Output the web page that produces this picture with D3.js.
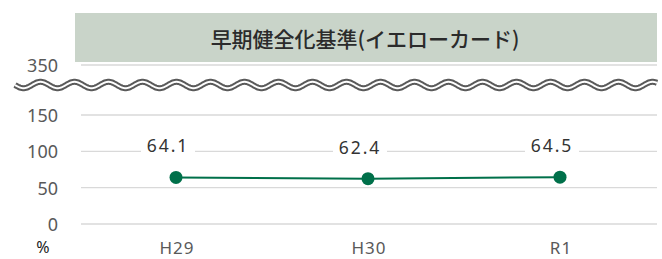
<!DOCTYPE html>
<html>
<head>
<meta charset="utf-8">
<script src="https://cdn.jsdelivr.net/npm/d3@7"></script>
<style>
  html, body { margin: 0; padding: 0; background: #fff; }
  svg { display: block; }
</style>
</head>
<body>
<div id="chart"></div>
<script>
const title = "早期健全化基準(イエローカード)";
const categories = ["H29", "H30", "R1"];
const values = [64.1, 62.4, 64.5];
const yTicks = [0, 50, 100, 150, 350];
const unitLabel = "%";

const W = 662, H = 259;
const numFont = "'Noto Sans', 'Open Sans', sans-serif";

const svg = d3.select("#chart")
  .append("svg")
  .attr("width", W)
  .attr("height", H);

// title box
svg.append("rect")
  .attr("x", 75).attr("y", 13)
  .attr("width", 582).attr("height", 49)
  .attr("fill", "#c9d4c9");

svg.append("text")
  .attr("x", 365).attr("y", 38)
  .attr("text-anchor", "middle")
  .attr("dominant-baseline", "central")
  .style("font-family", "'Noto Sans CJK JP', sans-serif")
  .style("font-size", "21px")
  .style("font-weight", 500)
  .attr("fill", "#2b2b2b")
  .text(title);

// scales (broken axis between 150 and 350)
const x = d3.scalePoint()
  .domain(categories)
  .range([80, 656])
  .padding(0.5);

const y = d3.scaleLinear()
  .domain([0, 150, 350])
  .range([224, 115, 65]);

// gridlines
svg.append("g")
  .selectAll("line")
  .data(yTicks)
  .join("line")
  .attr("x1", 81).attr("x2", 657)
  .attr("y1", d => y(d)).attr("y2", d => y(d))
  .attr("stroke", "#d9d9d9")
  .attr("stroke-width", 1.3);

// y tick labels
svg.append("g")
  .selectAll("text")
  .data(yTicks)
  .join("text")
  .attr("x", 58)
  .attr("y", d => y(d))
  .attr("text-anchor", "end")
  .attr("dominant-baseline", "central")
  .style("font-family", numFont)
  .style("font-size", "18px")
  .attr("fill", "#595959")
  .text(d => d);

// break mark (double wavy line)
const waveY = 85, period = 34, amp = 3.2;
const wavePts = d3.range(15, 658, 1).map(px => [px, waveY + amp * Math.sin((px - 15) / period * 2 * Math.PI)]);
const wave = d3.line();
svg.append("path")
  .attr("d", wave(wavePts))
  .attr("fill", "none")
  .attr("stroke", "#5a5a5a")
  .attr("stroke-width", 6);
svg.append("path")
  .attr("d", wave(wavePts))
  .attr("fill", "none")
  .attr("stroke", "#fff")
  .attr("stroke-width", 2);

// data line
const pts = categories.map((c, i) => ({ c, v: values[i] }));
svg.append("path")
  .datum(pts)
  .attr("fill", "none")
  .attr("stroke", "#00704a")
  .attr("stroke-width", 2)
  .attr("d", d3.line().x(d => x(d.c)).y(d => y(d.v)));

svg.append("g")
  .selectAll("circle")
  .data(pts)
  .join("circle")
  .attr("cx", d => x(d.c))
  .attr("cy", d => y(d.v))
  .attr("r", 6.5)
  .attr("fill", "#00704a");

// value labels with white background
const lbl = svg.append("g")
  .selectAll("g")
  .data(pts)
  .join("g")
  .attr("transform", d => `translate(${x(d.c) - 8}, ${y(d.v) - 32})`);

lbl.append("rect")
  .attr("x", -27).attr("y", -10)
  .attr("width", 54).attr("height", 20)
  .attr("fill", "#fff");

lbl.append("text")
  .attr("text-anchor", "middle")
  .attr("dominant-baseline", "central")
  .style("font-family", numFont)
  .style("font-size", "17.5px")
  .style("letter-spacing", "2px")
  .attr("fill", "#333")
  .text(d => d.v.toFixed(1));

// x labels
svg.append("g")
  .selectAll("text")
  .data(categories)
  .join("text")
  .attr("x", d => x(d) + 1)
  .attr("y", 254)
  .attr("text-anchor", "middle")
  .style("font-family", numFont)
  .style("font-size", "17px")
  .style("letter-spacing", "1px")
  .attr("fill", "#595959")
  .text(d => d);

// unit label
svg.append("text")
  .attr("x", 43).attr("y", 247)
  .attr("text-anchor", "middle")
  .attr("dominant-baseline", "central")
  .style("font-family", numFont)
  .style("font-size", "16px")
  .attr("fill", "#222")
  .text(unitLabel);
</script>
</body>
</html>
